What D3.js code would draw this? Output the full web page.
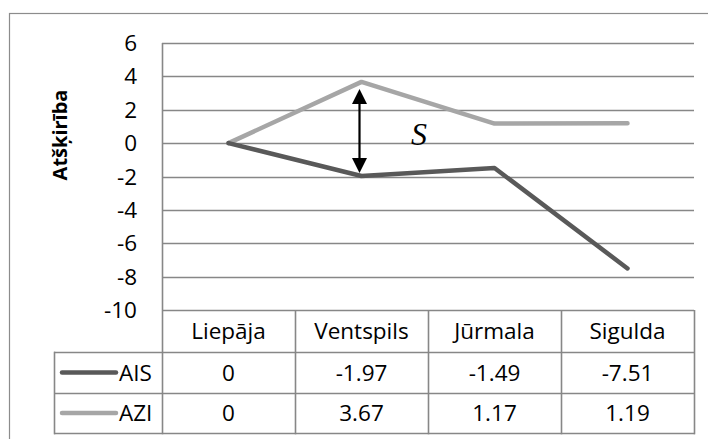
<!DOCTYPE html>
<html>
<head>
<meta charset="utf-8">
<script src="https://cdn.jsdelivr.net/npm/d3@7"></script>
<style>
  html, body { margin: 0; padding: 0; background: #fff; }
  svg { display: block; }
</style>
</head>
<body>
<svg id="chart" width="708" height="439"></svg>
<script>
// Categories and series values
const categories = ["Liepāja", "Ventspils", "Jūrmala", "Sigulda"];
const aisValues = [0, -1.97, -1.49, -7.51];
const aziValues = [0, 3.67, 1.17, 1.19];
const yTicks = [6, 4, 2, 0, -2, -4, -6, -8, -10];
const seriesNames = ["AIS", "AZI"];
const seriesColors = ["#595959", "#a6a6a6"];

const svg = d3.select("#chart");
const font = "'Open Sans', 'Noto Sans', sans-serif";
const textSize = 22.5;
const gridColor = "#878787";

// Outer chart border (runs past the right and bottom edges)
svg.append("rect")
  .attr("x", 9.5).attr("y", 13.5)
  .attr("width", 720).attr("height", 440)
  .attr("fill", "#fff").attr("stroke", "#8c8c8c").attr("stroke-width", 1.2);

const plotLeft = 162, plotRight = 694, plotTop = 43, plotBottom = 310;

const x = d3.scaleBand().domain(categories).range([plotLeft, plotRight]).padding(0);
const y = d3.scaleLinear().domain([-10, 6]).range([plotBottom, plotTop]);
const cx = c => x(c) + x.bandwidth() / 2;

// Horizontal gridlines
svg.append("g").selectAll("line").data(yTicks).join("line")
  .attr("x1", plotLeft).attr("x2", plotRight)
  .attr("y1", d => Math.round(y(d)) + 0.5).attr("y2", d => Math.round(y(d)) + 0.5)
  .attr("stroke", gridColor).attr("stroke-width", 1.6);

// Y tick labels
svg.append("g").selectAll("text").data(yTicks).join("text")
  .attr("x", 137).attr("y", d => y(d))
  .attr("dy", "0.36em")
  .attr("text-anchor", "end")
  .attr("font-family", font).attr("font-size", textSize)
  .attr("fill", "#000")
  .text(d => String(d));

// Y axis title
svg.append("text")
  .attr("transform", "translate(67,135) rotate(-90)")
  .attr("text-anchor", "middle")
  .attr("font-family", font).attr("font-size", 20).attr("font-weight", "bold")
  .text("Atšķirība");

// Series lines
const line = d3.line()
  .x((d, i) => cx(categories[i]))
  .y(d => y(d));

[[aziValues, 1], [aisValues, 0]].forEach(([vals, idx]) => {
  svg.append("path")
    .datum(vals)
    .attr("d", line)
    .attr("fill", "none")
    .attr("stroke", seriesColors[idx])
    .attr("stroke-width", 4.5)
    .attr("stroke-linecap", "round")
    .attr("stroke-linejoin", "round");
});

// Double-headed arrow marking the gap S at Ventspils
const ax = cx("Ventspils") - 2;
const yTop = y(aziValues[1]) + 7;
const yBot = y(aisValues[1]) - 3;
const headLen = 15, headHalf = 7.5;
svg.append("line")
  .attr("x1", ax).attr("x2", ax)
  .attr("y1", yTop + headLen - 1).attr("y2", yBot - headLen + 1)
  .attr("stroke", "#000").attr("stroke-width", 2.2);
svg.append("path")
  .attr("d", `M${ax},${yTop} L${ax + headHalf},${yTop + headLen} L${ax - headHalf},${yTop + headLen} Z`)
  .attr("fill", "#000");
svg.append("path")
  .attr("d", `M${ax},${yBot} L${ax + headHalf},${yBot - headLen} L${ax - headHalf},${yBot - headLen} Z`)
  .attr("fill", "#000");

svg.append("text")
  .attr("x", 419).attr("y", 145)
  .attr("text-anchor", "middle")
  .attr("font-family", "'Liberation Serif', 'DejaVu Serif', serif")
  .attr("font-style", "italic").attr("font-size", 32)
  .text("S");

// Data table below the plot
const tableLeft = 54;
const rowTops = [310, 352, 393, 433];
const tg = svg.append("g");

// category header row
tg.selectAll("text.cat").data(categories).join("text")
  .attr("class", "cat")
  .attr("x", d => cx(d))
  .attr("y", (rowTops[0] + rowTops[1]) / 2)
  .attr("dy", "0.36em")
  .attr("text-anchor", "middle")
  .attr("font-family", font).attr("font-size", textSize)
  .text(d => d);

// horizontal table lines
rowTops.slice(1).forEach(r => {
  tg.append("line").attr("x1", tableLeft).attr("x2", plotRight + 0.8)
    .attr("y1", r + 0.5).attr("y2", r + 0.5)
    .attr("stroke", gridColor).attr("stroke-width", 1.6);
});

// vertical table lines (the first also serves as the value axis)
tg.append("line").attr("x1", tableLeft + 0.5).attr("x2", tableLeft + 0.5)
  .attr("y1", rowTops[1] - 0.3).attr("y2", rowTops[3] + 1.3)
  .attr("stroke", gridColor).attr("stroke-width", 1.6);
const colEdges = categories.map(c => x(c)).concat([plotRight]);
tg.selectAll("line.col").data(colEdges).join("line")
  .attr("class", "col")
  .attr("x1", d => Math.round(d) + 0.5).attr("x2", d => Math.round(d) + 0.5)
  .attr("y1", (d, i) => i === 0 ? plotTop : rowTops[0])
  .attr("y2", rowTops[3] + 1.3)
  .attr("stroke", gridColor).attr("stroke-width", 1.6);

// series rows with legend keys
[aisValues, aziValues].forEach((vals, r) => {
  const cy = (rowTops[r + 1] + rowTops[r + 2]) / 2;
  tg.append("line")
    .attr("x1", 62).attr("x2", 116)
    .attr("y1", cy).attr("y2", cy)
    .attr("stroke", seriesColors[r]).attr("stroke-width", 4.5)
    .attr("stroke-linecap", "round");
  tg.append("text")
    .attr("x", 119).attr("y", cy).attr("dy", "0.36em")
    .attr("font-family", font).attr("font-size", textSize)
    .text(seriesNames[r]);
  tg.selectAll(null).data(vals).join("text")
    .attr("x", (d, i) => cx(categories[i]))
    .attr("y", cy).attr("dy", "0.36em")
    .attr("text-anchor", "middle")
    .attr("font-family", font).attr("font-size", textSize)
    .text(d => d3.format(".2~f")(d).replace("−", "-"));
});
</script>
</body>
</html>
